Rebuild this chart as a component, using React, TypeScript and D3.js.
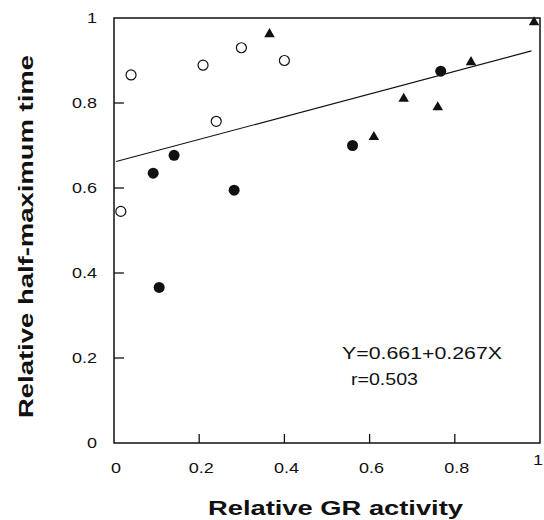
import React from "react";
import * as d3 from "d3";

const W = 544;
const H = 520;

const xTicks = [0, 0.2, 0.4, 0.6, 0.8, 1];
const yTicks = [0, 0.2, 0.4, 0.6, 0.8, 1];
const xTickLabels = ["0", "0.2", "0.4", "0.6", "0.8", "1"];
const yTickLabels = ["0", "0.2", "0.4", "0.6", "0.8", "1"];

const openX = [0.016, 0.04, 0.209, 0.24, 0.299, 0.4];
const openY = [0.545, 0.866, 0.889, 0.757, 0.93, 0.9];

const filledX = [0.092, 0.106, 0.141, 0.282, 0.56, 0.767];
const filledY = [0.635, 0.366, 0.677, 0.595, 0.7, 0.875];

const triX = [0.365, 0.61, 0.68, 0.76, 0.838, 0.986];
const triY = [0.962, 0.72, 0.81, 0.79, 0.896, 0.99];

const fitIntercept = 0.661;
const fitSlope = 0.267;
const fitRange = [0.005, 0.98];

const equationText = "Y=0.661+0.267X";
const rText = "r=0.503";
const xTitle = "Relative GR activity";
const yTitle = "Relative half-maximum time";

export default function App() {
  const x = d3.scaleLinear().domain([0, 1]).range([114, 540]);
  const y = d3.scaleLinear().domain([0, 1]).range([443, 18]);
  const font = "'Liberation Sans', Arial, Helvetica, sans-serif";
  const ink = "#111";

  const fitLine = d3
    .line<number>()
    .x((d) => x(d))
    .y((d) => y(fitIntercept + fitSlope * d))(fitRange) as string;

  const tri = d3.symbol().type(d3.symbolTriangle).size(48)() as string;

  return (
    <svg
      width={W}
      height={H}
      style={{ position: "absolute", left: 0, top: 0, background: "#fff" }}
    >
      <rect x={0} y={0} width={W} height={H} fill="#fff" />
      {/* frame */}
      <rect
        x={x(0)}
        y={y(1)}
        width={x(1) - x(0)}
        height={y(0) - y(1)}
        fill="none"
        stroke={ink}
        strokeWidth={1.5}
      />
      {/* y ticks */}
      {yTicks.map((t, i) => (
        <g key={"yt" + i}>
          {t > 0 && t < 1 && (
            <line x1={x(0)} x2={x(0) + 10} y1={y(t)} y2={y(t)} stroke={ink} strokeWidth={1.3} />
          )}
          <text
            transform={`translate(97,${y(t)}) scale(1.2,1)`}
            dy="0.35em"
            textAnchor="end"
            fontFamily={font}
            fontSize={15}
            fill={ink}
          >
            {yTickLabels[i]}
          </text>
        </g>
      ))}
      {/* x ticks */}
      {xTicks.map((t, i) => (
        <g key={"xt" + i}>
          {t > 0 && t < 1 && (
            <line x1={x(t)} x2={x(t)} y1={y(0)} y2={y(0) - 9} stroke={ink} strokeWidth={1.3} />
          )}
          <text
            transform={`translate(${x(t) + (t === 1 ? -2 : 2)},${t === 1 ? 465 : 473}) scale(1.2,1)`}
            textAnchor="middle"
            fontFamily={font}
            fontSize={15}
            fill={ink}
          >
            {xTickLabels[i]}
          </text>
        </g>
      ))}
      {/* regression line */}
      <path d={fitLine} fill="none" stroke={ink} strokeWidth={1.2} />
      {/* open circles */}
      {openX.map((v, i) => (
        <circle key={"o" + i} cx={x(v)} cy={y(openY[i])} r={5} fill="#fff" stroke={ink} strokeWidth={1.2} />
      ))}
      {/* filled circles */}
      {filledX.map((v, i) => (
        <circle key={"f" + i} cx={x(v)} cy={y(filledY[i])} r={5.5} fill={ink} />
      ))}
      {/* triangles */}
      {triX.map((v, i) => (
        <path key={"t" + i} d={tri} transform={`translate(${x(v)},${y(triY[i])})`} fill={ink} />
      ))}
      {/* annotation */}
      <text
        x={342}
        y={359}
        fontFamily={font}
        fontSize={16.5}
        fill={ink}
        textLength={160}
        lengthAdjust="spacingAndGlyphs"
      >
        {equationText}
      </text>
      <text
        x={351}
        y={385}
        fontFamily={font}
        fontSize={16.5}
        fill={ink}
        textLength={67}
        lengthAdjust="spacingAndGlyphs"
      >
        {rText}
      </text>
      {/* axis titles */}
      <text
        x={208}
        y={515}
        fontFamily={font}
        fontSize={21}
        fontWeight="bold"
        fill={ink}
        textLength={255}
        lengthAdjust="spacingAndGlyphs"
      >
        {xTitle}
      </text>
      <text
        transform="translate(33,418) rotate(-90)"
        x={0}
        y={0}
        fontFamily={font}
        fontSize={21}
        fontWeight="bold"
        fill={ink}
        textLength={363}
        lengthAdjust="spacingAndGlyphs"
      >
        {yTitle}
      </text>
    </svg>
  );
}
